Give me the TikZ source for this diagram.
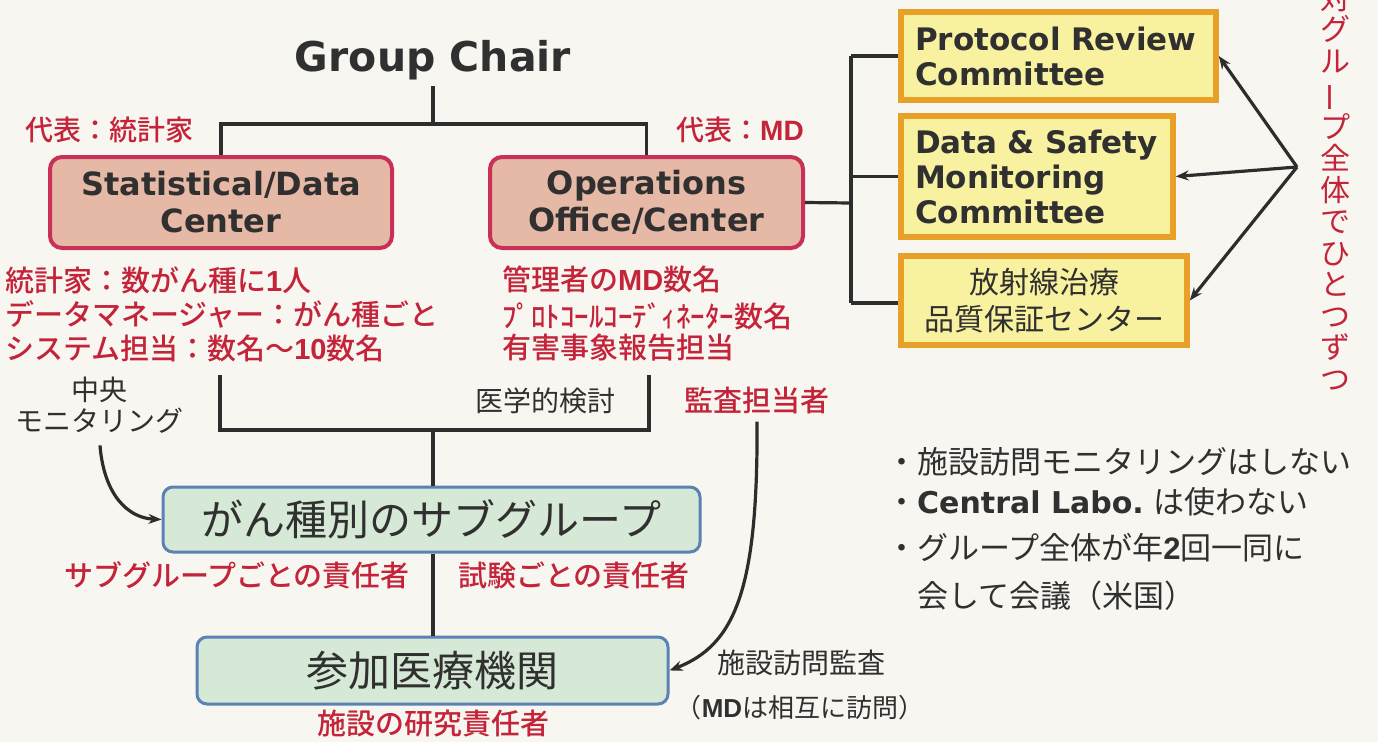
\documentclass[tikz,border=0pt]{standalone}
\usepackage{fontspec}
\usepackage{graphicx}
\setmainfont{Noto Sans CJK JP}
\newfontfamily\jpm{Noto Sans CJK JP Medium}
\newfontfamily\en{DejaVu Sans}
\newfontfamily\lib{Liberation Sans}
\usetikzlibrary{arrows.meta}
\definecolor{bgcol}{RGB}{248,246,240}
\definecolor{darktxt}{RGB}{48,48,48}
\definecolor{linecol}{RGB}{45,45,45}
\definecolor{pinkfill}{RGB}{230,184,166}
\definecolor{pinkbord}{RGB}{200,48,88}
\definecolor{yelfill}{RGB}{247,241,160}
\definecolor{yelbord}{RGB}{232,160,40}
\definecolor{grnfill}{RGB}{214,232,214}
\definecolor{grnbord}{RGB}{90,130,180}
\definecolor{redtxt}{RGB}{196,36,58}
\tikzset{
  conn/.style={draw=linecol, line width=3.2pt},
  arr/.style={conn, -{Stealth[length=13pt,width=10pt]}},
  pinkbox/.style={draw=pinkbord, fill=pinkfill, line width=4pt, rounded corners=12pt,
    align=center, text=darktxt, inner sep=0pt,
    font=\en\bfseries\fontsize{32}{37}\selectfont},
  yelbox/.style={draw=yelbord, fill=yelfill, line width=5.5pt, inner xsep=14pt, inner ysep=0pt,
    text=darktxt, font=\en\bfseries\fontsize{31}{35}\selectfont},
  grnbox/.style={draw=grnbord, fill=grnfill, line width=3pt, rounded corners=10pt,
    inner sep=0pt, text=darktxt, font=\fontsize{42}{48}\selectfont},
  rtext/.style={text=redtxt, inner sep=0pt, font=\jpm\fontsize{29}{34}\selectfont},
  btext/.style={text=darktxt, inner sep=0pt, align=center, font=\fontsize{28}{31}\selectfont},
  bul/.style={text=darktxt, inner sep=0pt, font=\fontsize{31}{36}\selectfont},
}
\begin{document}
\begin{tikzpicture}[x=1pt,y=-1pt]
\fill[bgcol] (0,0) rectangle (1378,742);
\useasboundingbox (0,0) rectangle (1378,742);
\clip (0,0) rectangle (1378,742);

% top
\node[text=darktxt, inner sep=0pt, font=\en\bfseries\fontsize{41}{46}\selectfont] (chair) at (433,60) {Group Chair};
\node[pinkbox, minimum width=342pt, minimum height=91pt] (sdc) at (221,202.5) {Statistical/Data\\Center};
\node[pinkbox, minimum width=313pt, minimum height=91pt] (ops) at (646.5,202.5) {Operations\\Office/Center};
\coordinate (jt) at (433,124);
\draw[conn] (chair.south) ++(0,6) -- (jt);
\draw[conn] (sdc.north) |- (jt) -| (ops.north);

\node[rtext, anchor=west, font=\jpm\fontsize{28}{32}\selectfont] (repL) at (25,130) {代表：統計家};
\node[rtext, anchor=west, font=\jpm\fontsize{28}{32}\selectfont] (repR) at (676,130) {代表：{\lib\bfseries MD}};

% committees
\node[yelbox, text width=287pt, minimum height=88pt, align=left] (prc) at (1058.5,56) {Protocol Review\\Committee};
\node[yelbox, text width=244pt, minimum height=121pt, align=left] (dsmc) at (1037,176.5) {Data \& Safety\\Monitoring\\Committee};
\node[yelbox, text width=258pt, minimum height=89pt, align=center, font=\fontsize{30}{37}\selectfont] (rtqa) at (1044,300.5) {放射線治療\\品質保証センター};
\coordinate (jr) at (851,203);
\coordinate (jr1) at (851,56);
\coordinate (jr3) at (851,303);
\draw[conn] (ops.east) -- (jr);
\draw[conn] (jr1) -- (jr3);
\draw[conn] (jr1) -- (prc.west);
\draw[conn] (jr |- dsmc.west) -- (dsmc.west);
\draw[conn] (jr3) -- (jr3 -| rtqa.west);

\coordinate (hub) at (1297,167);
\draw[arr] (hub) -- (prc.east);
\draw[arr] (hub) -- (dsmc.east);
\draw[arr] (hub) -- (rtqa.east);

\node[text=redtxt, inner sep=0pt, align=center, font=\fontsize{30}{31.5}\selectfont] (vert) at (1335,187)
  {対\\グ\\ル\\\rotatebox[origin=c]{90}{ー}\\プ\\全\\体\\で\\ひ\\と\\つ\\ず\\つ};

% lists under the centres
\node[rtext, anchor=west] (sl1) at (5,280) {統計家：数がん種に{\lib\bfseries 1}人};
\node[rtext, anchor=west] (sl2) at (5,314) {データマネージャー：がん種ごと};
\node[rtext, anchor=west] (sl3) at (5,348) {システム担当：数名〜{\lib\bfseries 10}数名};
\node[rtext, anchor=west] (ol1) at (502,279) {管理者の{\lib\bfseries MD}数名};
\node[rtext, anchor=west] (ol2) at (502,316) {ﾌﾟﾛﾄｺｰﾙｺｰﾃﾞｨﾈｰﾀｰ数名};
\node[rtext, anchor=west] (ol3) at (502,348) {有害事象報告担当};

% lower bracket
\coordinate (lb1) at (220,375);
\coordinate (lb2) at (649,375);
\coordinate (jb) at (433,430);
\draw[conn] (lb1) |- (jb) -| (lb2);

\node[btext] (cm) at (99,405) {中央\\モニタリング};
\node[btext] (med) at (545,401) {医学的検討};
\node[rtext] (audit) at (757,400) {監査担当者};

\node[grnbox, minimum width=537pt, minimum height=65pt] (sub) at (431.5,519.5) {がん種別のサブグループ};
\node[grnbox, minimum width=471pt, minimum height=67pt] (hosp) at (432.5,670.5) {参加医療機関};
\draw[conn] (jb) -- (jb |- sub.north);
\draw[conn] (sub.south -| jb) -- (jb |- hosp.north);

\draw[arr, shorten <=12pt] (cm.south) .. controls (104,495) and (128,518) .. (sub.west);
\draw[arr, shorten <=8pt] (audit.south) .. controls (758,590) and (735,645) .. (hosp.east);

\node[rtext] (subL) at (237,575) {サブグループごとの責任者};
\node[rtext] (subR) at (574,575) {試験ごとの責任者};
\node[rtext] (hospR) at (433,724) {施設の研究責任者};
\node[btext] (visit) at (801,663) {施設訪問監査};
\node[btext, font=\fontsize{26}{30}\selectfont] (visit2) at (800,708) {（{\lib\bfseries MD}は相互に訪問）};

% notes
\node[bul, anchor=west] (b1) at (886,462) {・施設訪問モニタリングはしない};
\node[bul, anchor=west] (b2) at (886,502) {・{\en\bfseries\fontsize{30}{36}\selectfont Central Labo.} は使わない};
\node[bul, anchor=west] (b3) at (886,548) {・グループ全体が年{\lib\bfseries 2}回一同に};
\node[bul, anchor=west] (b4) at (917,596) {会して会議（米国）};
\end{tikzpicture}
\end{document}
